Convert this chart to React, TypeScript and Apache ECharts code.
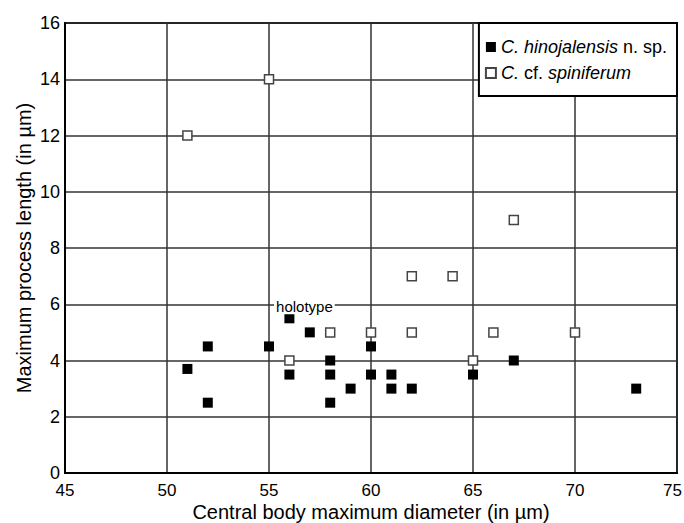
import React, { useEffect, useRef } from "react";
import * as echarts from "echarts";

// C. hinojalensis n. sp. (filled squares)
const hinoX = [51, 52, 52, 55, 56, 56, 57, 58, 58, 58, 59, 60, 60, 61, 61, 62, 65, 67, 73];
const hinoY = [3.7, 4.5, 2.5, 4.5, 5.5, 3.5, 5, 4, 3.5, 2.5, 3, 4.5, 3.5, 3.5, 3, 3, 3.5, 4, 3];
const HOLOTYPE_INDEX = 4;
const HOLOTYPE_LABEL = "holotype";

// C. cf. spiniferum (open squares)
const spinX = [51, 55, 56, 58, 60, 62, 62, 64, 65, 66, 67, 70];
const spinY = [12, 14, 4, 5, 5, 5, 7, 7, 4, 5, 9, 5];

const X_MIN = 45;
const X_MAX = 75;
const Y_MIN = 0;
const Y_MAX = 16;

const SERIES_NAMES = ["C. hinojalensis n. sp.", "C. cf. spiniferum"];
const X_TITLE = "Central body maximum diameter (in µm)";
const Y_TITLE = "Maximum process length (in µm)";

const FONT = "'Liberation Sans', Arial, Helvetica, sans-serif";

export default function App() {
  const ref = useRef<HTMLDivElement>(null);
  useEffect(() => {
    document.body.style.margin = "0";
    if (!ref.current) return;
    const chart = echarts.init(ref.current, null, { renderer: "svg" });
    const hinoData = hinoX.map((x, i) => {
      const d: any = { value: [x, hinoY[i]] };
      if (i === HOLOTYPE_INDEX) {
        d.label = {
          show: true,
          formatter: HOLOTYPE_LABEL,
          position: "top",
          distance: 1,
          offset: [15, 2],
          fontSize: 15,
          color: "#000",
          fontFamily: FONT,
          backgroundColor: "#fff",
          padding: [0, 2],
        };
      }
      return d;
    });
    const spinData = spinX.map((x, i) => [x, spinY[i]]);
    chart.setOption({
      animation: false,
      textStyle: { fontFamily: FONT, color: "#000" },
      grid: {
        left: 65,
        right: 7,
        top: 23,
        bottom: 50,
        outerBoundsMode: "none",
        containLabel: false,
        show: true,
        borderColor: "#000",
        borderWidth: 2,
        backgroundColor: "#fff",
      },
      legend: {
        data: SERIES_NAMES,
        orient: "vertical",
        right: 7,
        top: 23,
        backgroundColor: "#fff",
        borderColor: "#000",
        borderWidth: 2,
        borderRadius: 0,
        padding: [15, 10, 14, 6],
        itemGap: 8,
        itemWidth: 10,
        itemHeight: 10,
        icon: "rect",
        formatter: (name: string) =>
          name === SERIES_NAMES[0]
            ? "{i|C. hinojalensis} n. sp."
            : "{i|C.} cf. {i|spiniferum}",
        textStyle: {
          fontSize: 18,
          color: "#000",
          fontFamily: FONT,
          rich: {
            i: { fontStyle: "italic", fontSize: 18, color: "#000", fontFamily: FONT },
          },
        },
      },
      xAxis: {
        type: "value",
        min: X_MIN,
        max: X_MAX,
        interval: 5,
        name: X_TITLE,
        nameLocation: "middle",
        nameMoveOverlap: false,
        nameGap: 29,
        nameTextStyle: { fontSize: 20, lineHeight: 20, color: "#000", fontFamily: FONT },
        axisLine: { show: true, lineStyle: { color: "#000", width: 2 } },
        axisTick: { show: false },
        axisLabel: {
          fontSize: 17,
          lineHeight: 17,
          color: "#000",
          margin: 9,
          fontFamily: FONT,
          formatter: (v: number) => (v === X_MAX ? `{m|${v}}` : `${v}`),
          rich: {
            m: {
              fontSize: 17,
              lineHeight: 17,
              color: "#000",
              fontFamily: FONT,
              padding: [0, 9, 0, 0],
            },
          },
        },
        splitLine: { show: true, lineStyle: { color: "#333", width: 1.5 } },
      },
      yAxis: {
        type: "value",
        min: Y_MIN,
        max: Y_MAX,
        interval: 2,
        name: Y_TITLE,
        nameLocation: "middle",
        nameMoveOverlap: false,
        nameGap: 31,
        nameTextStyle: { fontSize: 20, color: "#000", fontFamily: FONT },
        axisLine: { show: true, lineStyle: { color: "#000", width: 2 } },
        axisTick: { show: false },
        axisLabel: { fontSize: 18, color: "#000", margin: 5, fontFamily: FONT },
        splitLine: { show: true, lineStyle: { color: "#333", width: 1.5 } },
      },
      series: [
        {
          name: SERIES_NAMES[0],
          type: "scatter",
          symbol: "rect",
          symbolSize: 10,
          itemStyle: { color: "#000", opacity: 1 },
          data: hinoData,
          z: 3,
        },
        {
          name: SERIES_NAMES[1],
          type: "scatter",
          symbol: "rect",
          symbolSize: 9,
          itemStyle: { color: "#fff", borderColor: "#444", borderWidth: 1.5, opacity: 1 },
          data: spinData,
          z: 3,
        },
      ],
    });
    return () => chart.dispose();
  }, []);
  return <div ref={ref} style={{ width: 684, height: 523 }} />;
}
